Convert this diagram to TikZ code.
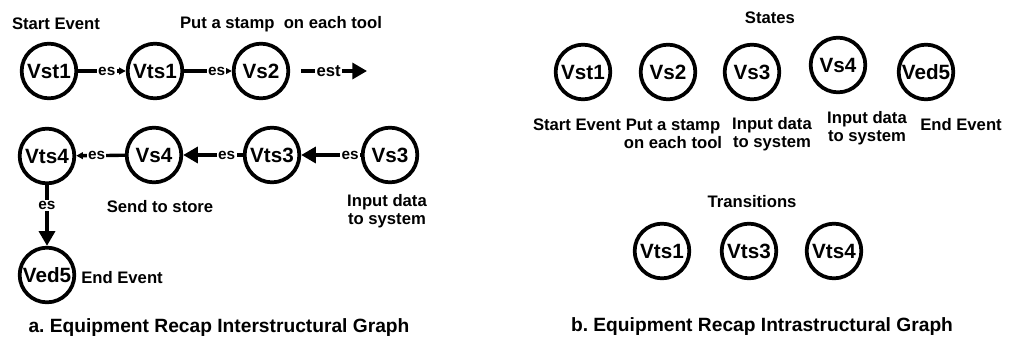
\documentclass[tikz,border=0pt]{standalone}
\usepackage{fontspec}
\setmainfont{Liberation Sans}
\usetikzlibrary{arrows.meta}

\begin{document}
\frenchspacing
\begin{tikzpicture}[x=0.75pt,y=-0.75pt,
    vertex/.style={circle,draw,line width=2.8pt,minimum size=41pt,inner sep=0pt,font=\fontsize{15.5}{16}\selectfont\bfseries},
    note/.style={align=center,font=\fontsize{12.5}{13.5}\selectfont\bfseries},
    elabel/.style={fill=white,inner sep=1pt,font=\fontsize{11.5}{11.5}\selectfont\bfseries},
    bigedge/.style={line width=2.5pt,-{Triangle[length=11pt,width=12pt]}},
    smalledge/.style={line width=2.5pt,-{Triangle[length=5pt,width=5pt]}},
    caption/.style={font=\fontsize{14.4}{16}\selectfont\bfseries}]
    \useasboundingbox (0,0) rectangle (1011,343);
    % a. interstructural graph
    \node[vertex] (ast1) at (49,71) {Vst1};
    \node[vertex] (ats1) at (155,71) {Vts1};
    \node[vertex] (as2) at (261,71) {Vs2};
    \coordinate (est1) at (301,71);
    \coordinate (est2) at (367,71);
    \node[vertex] (as3) at (390,155) {Vs3};
    \node[vertex] (ats3) at (272,155) {Vts3};
    \node[vertex] (as4) at (154,155) {Vs4};
    \node[vertex] (ats4) at (47,156) {Vts4};
    \node[vertex] (aed5) at (47,275) {Ved5};
    \draw[smalledge] (ast1) -- node[elabel,pos=0.6]{es} (ats1);
    \draw[smalledge] (ats1) -- node[elabel,pos=0.68]{es} (as2);
    \draw[bigedge] (est1) -- node[elabel,pos=0.42,font=\fontsize{12.5}{12.5}\selectfont\bfseries]{est} (est2);
    \draw[bigedge] (as3) -- node[elabel,pos=0.18]{es} (ats3);
    \draw[bigedge] (ats3) -- node[elabel,pos=0.27]{es} (as4);
    \draw[smalledge] (as4) -- node[elabel,pos=0.58]{es} (ats4);
    \draw[bigedge] (ats4) -- node[elabel,pos=0.33]{es} (aed5);
    \node[note] (astart) at (56,24) {Start Event};
    \node[note] (astamp) at (281,24) {Put a stamp~ on each tool};
    \node[note] (ainput) at (387,211) {Input data\\to system};
    \node[note] (astore) at (160,207) {Send to store};
    \node[note] (aend) at (122,278) {End Event};
    \node[caption] (capa) at (219,328) {a. Equipment Recap Interstructural Graph};
    % b. intrastructural graph
    \node[note] (states) at (770,18) {States};
    \node[vertex] (bst1) at (583,72) {Vst1};
    \node[vertex] (bs2) at (668,72) {Vs2};
    \node[vertex] (bs3) at (752,72) {Vs3};
    \node[vertex] (bs4) at (838,65) {Vs4};
    \node[vertex] (bed5) at (926,72) {Ved5};
    \node[note] (bstart) at (577,125) {Start Event};
    \node[note] (bstamp) at (673,134) {Put a stamp\\on each tool};
    \node[note] (binput3) at (772,134) {Input data\\to system};
    \node[note] (binput4) at (867,128) {Input data\\to system};
    \node[note] (bend) at (961,125) {End Event};
    \node[note] (trans) at (752,202) {Transitions};
    \node[vertex] (bts1) at (662,251) {Vts1};
    \node[vertex] (bts3) at (749,251) {Vts3};
    \node[vertex] (bts4) at (834,251) {Vts4};
    \node[caption] (capb) at (762,327) {b. Equipment Recap Intrastructural Graph};
\end{tikzpicture}
\end{document}
